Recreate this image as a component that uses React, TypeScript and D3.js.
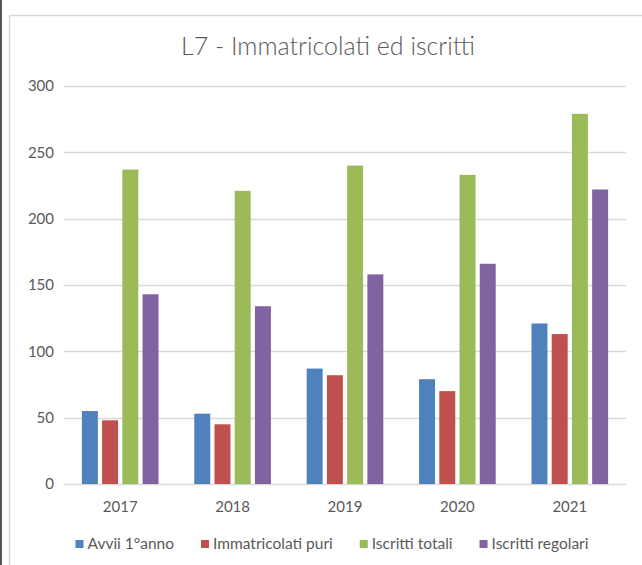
import React, { useEffect, useRef } from "react";
import * as d3 from "d3";

const years = ["2017", "2018", "2019", "2020", "2021"];
const seriesNames = ["Avvii 1°anno", "Immatricolati puri", "Iscritti totali", "Iscritti regolari"];
const avvii = [55, 53, 87, 79, 121];
const immatricolati = [48, 45, 82, 70, 113];
const iscrittiTotali = [237, 221, 240, 233, 279];
const iscrittiRegolari = [143, 134, 158, 166, 222];
const yTicks = [0, 50, 100, 150, 200, 250, 300];
const colors = ["#4F81BD", "#C0504D", "#9BBB59", "#8064A2"];

const W = 642;
const H = 565;
const FONT = "Lato, 'Open Sans', sans-serif";

export default function App() {
  const ref = useRef<SVGSVGElement>(null);

  useEffect(() => {
    const svg = d3.select(ref.current);
    svg.selectAll("*").remove();
    const values = [avvii, immatricolati, iscrittiTotali, iscrittiRegolari];

    svg.append("rect").attr("x", 0).attr("y", 0).attr("width", W).attr("height", H).attr("fill", "#fff");
    svg.append("rect").attr("x", 0).attr("y", 0).attr("width", 2).attr("height", H).attr("fill", "#555");
    svg.append("path").attr("d", `M9.5,${H} V15.5 H${W}`).attr("fill", "none").attr("stroke", "#d9d9d9").attr("stroke-width", 1.5);

    const x0 = d3.scaleBand().domain(years).range([64, 626]).paddingInner(0.318).paddingOuter(0.159);
    const x1 = d3.scaleBand().domain(seriesNames).range([0, x0.bandwidth()]).paddingInner(0.21);
    const y = d3.scaleLinear().domain([0, 300]).range([484, 86]);

    svg.append("text")
      .attr("x", 328).attr("y", 55)
      .attr("text-anchor", "middle")
      .attr("font-family", FONT).attr("font-size", 25).attr("font-weight", 300)
      .attr("fill", "#595959")
      .text("L7 - Immatricolati ed iscritti");

    const grid = svg.append("g");
    yTicks.forEach((t) => {
      grid.append("line")
        .attr("x1", 64).attr("x2", 626)
        .attr("y1", Math.round(y(t)) + 0.5).attr("y2", Math.round(y(t)) + 0.5)
        .attr("stroke", "#d9d9d9").attr("stroke-width", 1.3);
      grid.append("text")
        .attr("x", 54).attr("y", y(t)).attr("dy", "0.35em")
        .attr("text-anchor", "end")
        .attr("font-family", FONT).attr("font-size", 15)
        .attr("fill", "#595959")
        .text(String(t));
    });

    const bars = svg.append("g");
    years.forEach((yr, i) => {
      seriesNames.forEach((s, j) => {
        const v = values[j][i];
        bars.append("rect")
          .attr("x", (x0(yr) as number) + (x1(s) as number))
          .attr("y", y(v))
          .attr("width", x1.bandwidth())
          .attr("height", y(0) - y(v))
          .attr("fill", colors[j]);
      });
      svg.append("text")
        .attr("x", (x0(yr) as number) + x0.bandwidth() / 2)
        .attr("y", 512)
        .attr("text-anchor", "middle")
        .attr("font-family", FONT).attr("font-size", 15)
        .attr("fill", "#595959")
        .text(yr);
    });

    // legend
    const lg = svg.append("g");
    const items: { g: any; w: number }[] = [];
    seriesNames.forEach((s, j) => {
      const g = lg.append("g");
      g.append("rect").attr("x", 0).attr("y", -4).attr("width", 8).attr("height", 8).attr("fill", colors[j]);
      const t = g.append("text")
        .attr("x", 12).attr("y", 0).attr("dy", "0.35em")
        .attr("font-family", FONT).attr("font-size", 15.5)
        .attr("fill", "#595959")
        .text(s);
      const tw = (t.node() as SVGTextElement).getComputedTextLength();
      items.push({ g, w: 12 + tw });
    });
    const gap = 27;
    const total = d3.sum(items, (d) => d.w) + gap * (items.length - 1);
    let cx = 332 - total / 2;
    items.forEach((it) => {
      it.g.attr("transform", `translate(${cx},544)`);
      cx += it.w + gap;
    });
  }, []);

  return (
    <svg
      ref={ref}
      width={W}
      height={H}
      style={{ position: "absolute", left: 0, top: 0, display: "block" }}
    />
  );
}
